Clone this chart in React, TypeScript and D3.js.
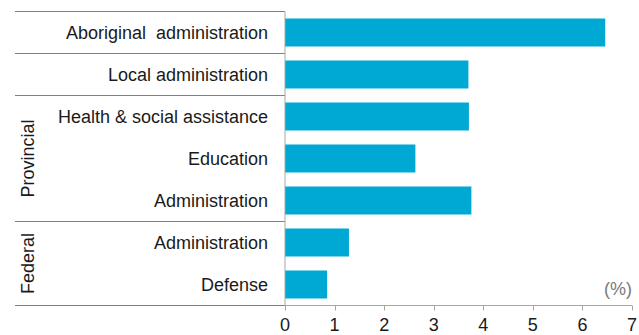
import React from "react";
import * as d3 from "d3";

const categories = [
  "Aboriginal  administration",
  "Local administration",
  "Health & social assistance",
  "Education",
  "Administration",
  "Administration",
  "Defense",
];
const values = [6.46, 3.7, 3.71, 2.63, 3.76, 1.29, 0.85];
const groups = [
  { label: "Provincial", from: 2, to: 4 },
  { label: "Federal", from: 5, to: 6 },
];
const separatorsAfter = [-1, 0, 1, 4, 6];
const ticks = [0, 1, 2, 3, 4, 5, 6, 7];
const unitLabel = "(%)";

const W = 639;
const H = 335;
const FONT = "'Liberation Sans', Arial, sans-serif";

export default function App() {
  const x = d3.scaleLinear().domain([0, 7]).range([285, 632]);
  const y = d3
    .scaleBand<number>()
    .domain(categories.map((_, i) => i))
    .range([11.5, 305.5])
    .paddingInner(1 / 3)
    .paddingOuter(1 / 6);
  const step = y.step();
  const bandTop = (i: number) => 11.5 + i * step;
  const x0 = x(0);
  const axisY = 305.5;

  return (
    <svg
      width={W}
      height={H}
      style={{ position: "fixed", left: 0, top: 0, background: "#fff" }}
      fontFamily={FONT}
    >
      {values.map((v, i) => (
        <rect
          key={i}
          x={x0}
          y={y(i)}
          width={x(v) - x0}
          height={y.bandwidth()}
          fill="#00a9d4"
        />
      ))}
      {separatorsAfter.map((s, k) => {
        const yy = bandTop(s + 1);
        return (
          <line
            key={k}
            x1={15}
            x2={x0}
            y1={yy}
            y2={yy}
            stroke="#808080"
            strokeWidth={1}
          />
        );
      })}
      {categories.map((c, i) => (
        <text
          key={i}
          x={268}
          y={(y(i) ?? 0) + y.bandwidth() / 2}
          dy="0.35em"
          textAnchor="end"
          fontSize={18}
          fill="#1a1a1a"
          style={{ whiteSpace: "pre" }}
        >
          {c}
        </text>
      ))}
      {groups.map((g, k) => {
        const cy = (bandTop(g.from) + bandTop(g.to + 1)) / 2;
        return (
          <text
            key={k}
            transform={`translate(28,${cy}) rotate(-90)`}
            textAnchor="middle"
            dy="0.35em"
            fontSize={18}
            fill="#1a1a1a"
          >
            {g.label}
          </text>
        );
      })}
      <line x1={x0} x2={x0} y1={11.5} y2={axisY} stroke="#a6a6a6" />
      <line x1={x0} x2={x(7)} y1={axisY} y2={axisY} stroke="#a6a6a6" />
      {ticks.map((t) => (
        <g key={t}>
          <line
            x1={Math.round(x(t)) + 0.5}
            x2={Math.round(x(t)) + 0.5}
            y1={axisY}
            y2={axisY + 5}
            stroke="#a6a6a6"
          />
          <text
            x={x(t)}
            y={325}
            dy="0.35em"
            textAnchor="middle"
            fontSize={18}
            fill="#1a1a1a"
          >
            {t}
          </text>
        </g>
      ))}
      <text
        x={x(7)}
        y={289}
        dy="0.35em"
        textAnchor="end"
        fontSize={18}
        fill="#7a7a7a"
      >
        {unitLabel}
      </text>
    </svg>
  );
}
